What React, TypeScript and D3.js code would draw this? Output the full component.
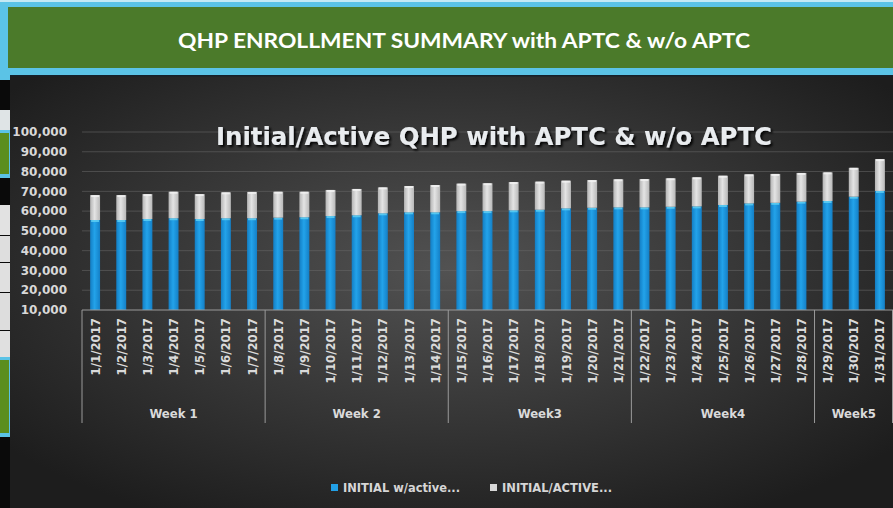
import React, { useEffect, useRef } from 'react';
import * as d3 from 'd3';

// category labels (one bar per day) and the week groups below them
const dates = [
  '1/1/2017', '1/2/2017', '1/3/2017', '1/4/2017', '1/5/2017', '1/6/2017', '1/7/2017',
  '1/8/2017', '1/9/2017', '1/10/2017', '1/11/2017', '1/12/2017', '1/13/2017', '1/14/2017',
  '1/15/2017', '1/16/2017', '1/17/2017', '1/18/2017', '1/19/2017', '1/20/2017', '1/21/2017',
  '1/22/2017', '1/23/2017', '1/24/2017', '1/25/2017', '1/26/2017', '1/27/2017', '1/28/2017',
  '1/29/2017', '1/30/2017', '1/31/2017'
];
const weekNames = ['Week 1', 'Week 2', 'Week3', 'Week4', 'Week5'];
const weekSizes = [7, 7, 7, 7, 3];

// series values (stacked)
const initialWithActive = [
  55500, 55500, 56000, 56400, 56000, 56400, 56400, 56700, 56900, 57500, 57900, 58900, 59400, 59400,
  60000, 60000, 60400, 60700, 61400, 61700, 61900, 61900, 62200, 62400, 63100, 63900, 64200, 64800,
  65100, 67300, 70200
];
const initialActiveRest = [
  12600, 12600, 12600, 13400, 12600, 13100, 13300, 13100, 12900, 13200, 13300, 13100, 13300, 13800,
  13900, 14100, 14300, 14200, 14000, 14000, 14200, 14300, 14400, 14700, 14800, 14700, 14600, 14500,
  14500, 14600, 16100
];
const seriesNames = ['INITIAL w/active...', 'INITIAL/ACTIVE...'];
const yTicks = [10000, 20000, 30000, 40000, 50000, 60000, 70000, 80000, 90000, 100000];

const bannerTitle = 'QHP ENROLLMENT SUMMARY with APTC & w/o APTC';
const chartTitle = 'Initial/Active QHP with APTC & w/o APTC';

const W = 893;
const H = 508;
const labelFont = '"DejaVu Sans Condensed", "DejaVu Sans", sans-serif';

const Chart = () => {
  const ref = useRef<SVGSVGElement>(null);

  useEffect(() => {
    const svg = d3.select(ref.current);
    svg.selectAll('*').remove();

    const margin = { top: 132, right: 0, bottom: 198, left: 82 };
    const plotBottom = H - margin.bottom; // 310

    // --- defs: gradients and shadow ---
    const defs = svg.append('defs');
    const bg = defs.append('radialGradient').attr('id', 'bg').attr('cx', '50%').attr('cy', '45%').attr('r', '65%');
    bg.append('stop').attr('offset', '0%').attr('stop-color', '#525252');
    bg.append('stop').attr('offset', '100%').attr('stop-color', '#1d1d1d');

    const blue = defs.append('linearGradient').attr('id', 'blueBar').attr('x1', 0).attr('x2', 1);
    blue.append('stop').attr('offset', '0%').attr('stop-color', '#137ec4');
    blue.append('stop').attr('offset', '45%').attr('stop-color', '#23a3ea');
    blue.append('stop').attr('offset', '100%').attr('stop-color', '#147fc6');

    const grey = defs.append('linearGradient').attr('id', 'greyBar').attr('x1', 0).attr('x2', 1);
    grey.append('stop').attr('offset', '0%').attr('stop-color', '#b4b4b4');
    grey.append('stop').attr('offset', '45%').attr('stop-color', '#e4e4e4');
    grey.append('stop').attr('offset', '100%').attr('stop-color', '#b8b8b8');

    const shadow = defs.append('filter').attr('id', 'shadow').attr('x', '-5%').attr('y', '-20%').attr('width', '110%').attr('height', '150%');
    shadow.append('feDropShadow').attr('dx', 2).attr('dy', 2).attr('stdDeviation', 1.2).attr('flood-color', '#000').attr('flood-opacity', 0.9);

    // --- spreadsheet bits showing at the left edge ---
    const strip = svg.append('g');
    strip.append('rect').attr('x', 0).attr('y', 0).attr('width', 12).attr('height', H).attr('fill', '#0a0a0a');
    const cells: [number, number, string][] = [
      [110, 130, '#dfe4e6'], [205, 235, '#e2e2e2'], [236, 262, '#dedede'], [263, 292, '#e0e0e0'],
      [293, 330, '#dddddd'], [331, 357, '#e0e0e0']
    ];
    cells.forEach(([a, b, c]) => strip.append('rect').attr('x', 0).attr('y', a).attr('width', 11).attr('height', b - a).attr('fill', c));
    [[130, 178], [357, 437]].forEach(([a, b]) => {
      strip.append('rect').attr('x', 0).attr('y', a).attr('width', 11).attr('height', b - a).attr('fill', '#5bc3e6');
      strip.append('rect').attr('x', 0).attr('y', a + 3).attr('width', 9).attr('height', b - a - 7).attr('fill', '#5b8e1e');
    });

    // --- banner ---
    svg.append('rect').attr('x', 0).attr('y', 0).attr('width', W).attr('height', 2).attr('fill', '#c4e9f4');
    svg.append('rect').attr('x', 0).attr('y', 2).attr('width', W).attr('height', 73).attr('fill', '#5bc3e6');
    svg.append('rect').attr('x', 0).attr('y', 75).attr('width', 10).attr('height', 5).attr('fill', '#5bc3e6');
    svg.append('rect').attr('x', 8).attr('y', 7).attr('width', W - 8).attr('height', 61).attr('fill', '#4b7a2a');
    svg.append('text')
      .attr('x', 464).attr('y', 48)
      .attr('text-anchor', 'middle')
      .attr('textLength', 572).attr('lengthAdjust', 'spacingAndGlyphs')
      .style('font-family', 'Lato, "Open Sans", sans-serif').style('font-weight', 700).style('font-size', '20px')
      .attr('fill', '#ffffff')
      .text(bannerTitle);

    // --- chart area ---
    svg.append('rect').attr('x', 10).attr('y', 75).attr('width', W - 10).attr('height', H - 75).attr('fill', 'url(#bg)');
    svg.append('rect').attr('x', 10).attr('y', 75).attr('width', W - 10).attr('height', 1.5).attr('fill', '#15202a');

    // --- scales ---
    const x = d3.scaleBand<string>().domain(dates).range([margin.left, W - margin.right]).paddingInner(0.62).paddingOuter(0.31);
    const step = x.step();
    const y = d3.scaleLinear().domain([10000, 100000]).range([plotBottom, margin.top]).clamp(true);

    // gridlines
    svg.append('g')
      .selectAll('line')
      .data(yTicks.slice(1))
      .join('line')
      .attr('x1', margin.left).attr('x2', W)
      .attr('y1', (d) => y(d)).attr('y2', (d) => y(d))
      .attr('stroke', '#6a6a6a').attr('stroke-opacity', 0.55).attr('stroke-width', 1);

    // y labels
    svg.append('g')
      .selectAll('text')
      .data(yTicks)
      .join('text')
      .attr('x', 67).attr('y', (d) => y(d)).attr('dy', '0.35em')
      .attr('text-anchor', 'end')
      .style('font-family', '"DejaVu Sans", Verdana, sans-serif').style('font-weight', 700).style('font-size', '12px')
      .attr('fill', '#d8d8d8')
      .text((d) => d3.format(',')(d));

    // title
    svg.append('text')
      .attr('x', 494).attr('y', 145)
      .attr('text-anchor', 'middle')
      .attr('textLength', 556).attr('lengthAdjust', 'spacingAndGlyphs')
      .style('font-family', '"DejaVu Sans", Verdana, sans-serif').style('font-weight', 700).style('font-size', '24px')
      .attr('fill', '#e9ecef')
      .attr('filter', 'url(#shadow)')
      .text(chartTitle);

    // stacked bars
    const table = dates.map((d, i) => ({ date: d, a: initialWithActive[i], b: initialActiveRest[i] }));
    const stacked = d3.stack<any>().keys(['a', 'b'])(table);
    const fills = ['url(#blueBar)', 'url(#greyBar)'];
    const caps = ['#62d2f4', '#f4f4f4'];

    stacked.forEach((layer, li) => {
      const g = svg.append('g');
      g.selectAll('rect')
        .data(layer)
        .join('rect')
        .attr('x', (d: any) => x(d.data.date)!)
        .attr('width', x.bandwidth())
        .attr('y', (d) => y(d[1]))
        .attr('height', (d) => y(d[0]) - y(d[1]))
        .attr('fill', fills[li]);
      g.selectAll('line')
        .data(layer)
        .join('line')
        .attr('x1', (d: any) => x(d.data.date)! + 1)
        .attr('x2', (d: any) => x(d.data.date)! + x.bandwidth() - 1)
        .attr('y1', (d) => y(d[1]) + 1)
        .attr('y2', (d) => y(d[1]) + 1)
        .attr('stroke', caps[li]).attr('stroke-width', 2).attr('stroke-opacity', 0.8);
    });

    // category axis: baseline, week separators
    const axisColor = '#9a9a9a';
    svg.append('line').attr('x1', margin.left).attr('x2', W).attr('y1', plotBottom).attr('y2', plotBottom).attr('stroke', axisColor);
    let cum = 0;
    const bounds = [margin.left];
    weekSizes.forEach((n) => {
      cum += n;
      bounds.push(margin.left + cum * step);
    });
    svg.append('g')
      .selectAll('line')
      .data(bounds)
      .join('line')
      .attr('x1', (d) => Math.min(d, W - 0.5)).attr('x2', (d) => Math.min(d, W - 0.5))
      .attr('y1', plotBottom).attr('y2', 423)
      .attr('stroke', axisColor);

    // date labels
    svg.append('g')
      .selectAll('text')
      .data(dates)
      .join('text')
      .attr('transform', (d) => `translate(${x(d)! + x.bandwidth() / 2},318) rotate(-90)`)
      .attr('dy', '0.35em')
      .attr('text-anchor', 'end')
      .style('font-family', labelFont).style('font-weight', 700).style('font-size', '13px')
      .attr('fill', '#dadada')
      .text((d) => d);

    // week labels
    svg.append('g')
      .selectAll('text')
      .data(weekNames)
      .join('text')
      .attr('x', (d, i) => (bounds[i] + bounds[i + 1]) / 2)
      .attr('y', 413).attr('dy', '0.35em')
      .attr('text-anchor', 'middle')
      .style('font-family', labelFont).style('font-weight', 700).style('font-size', '13px')
      .attr('fill', '#dadada')
      .text((d) => d);

    // legend
    const legendX = [331, 490];
    const legendLen = [117, 110];
    const legendFill = ['#22a0e6', '#d8d8d8'];
    const legend = svg.append('g');
    seriesNames.forEach((name, i) => {
      legend.append('rect').attr('x', legendX[i]).attr('y', 484).attr('width', 7).attr('height', 7).attr('fill', legendFill[i]);
      legend.append('text')
        .attr('x', legendX[i] + 12).attr('y', 488).attr('dy', '0.35em')
        .attr('textLength', legendLen[i]).attr('lengthAdjust', 'spacingAndGlyphs')
        .style('font-family', labelFont).style('font-weight', 700).style('font-size', '12px')
        .attr('fill', '#d6d6d6')
        .text(name);
    });
  }, []);

  return <svg ref={ref} width={W} height={H} style={{ position: 'absolute', left: 0, top: 0 }}></svg>;
};

export default function App() {
  return <Chart />;
}
